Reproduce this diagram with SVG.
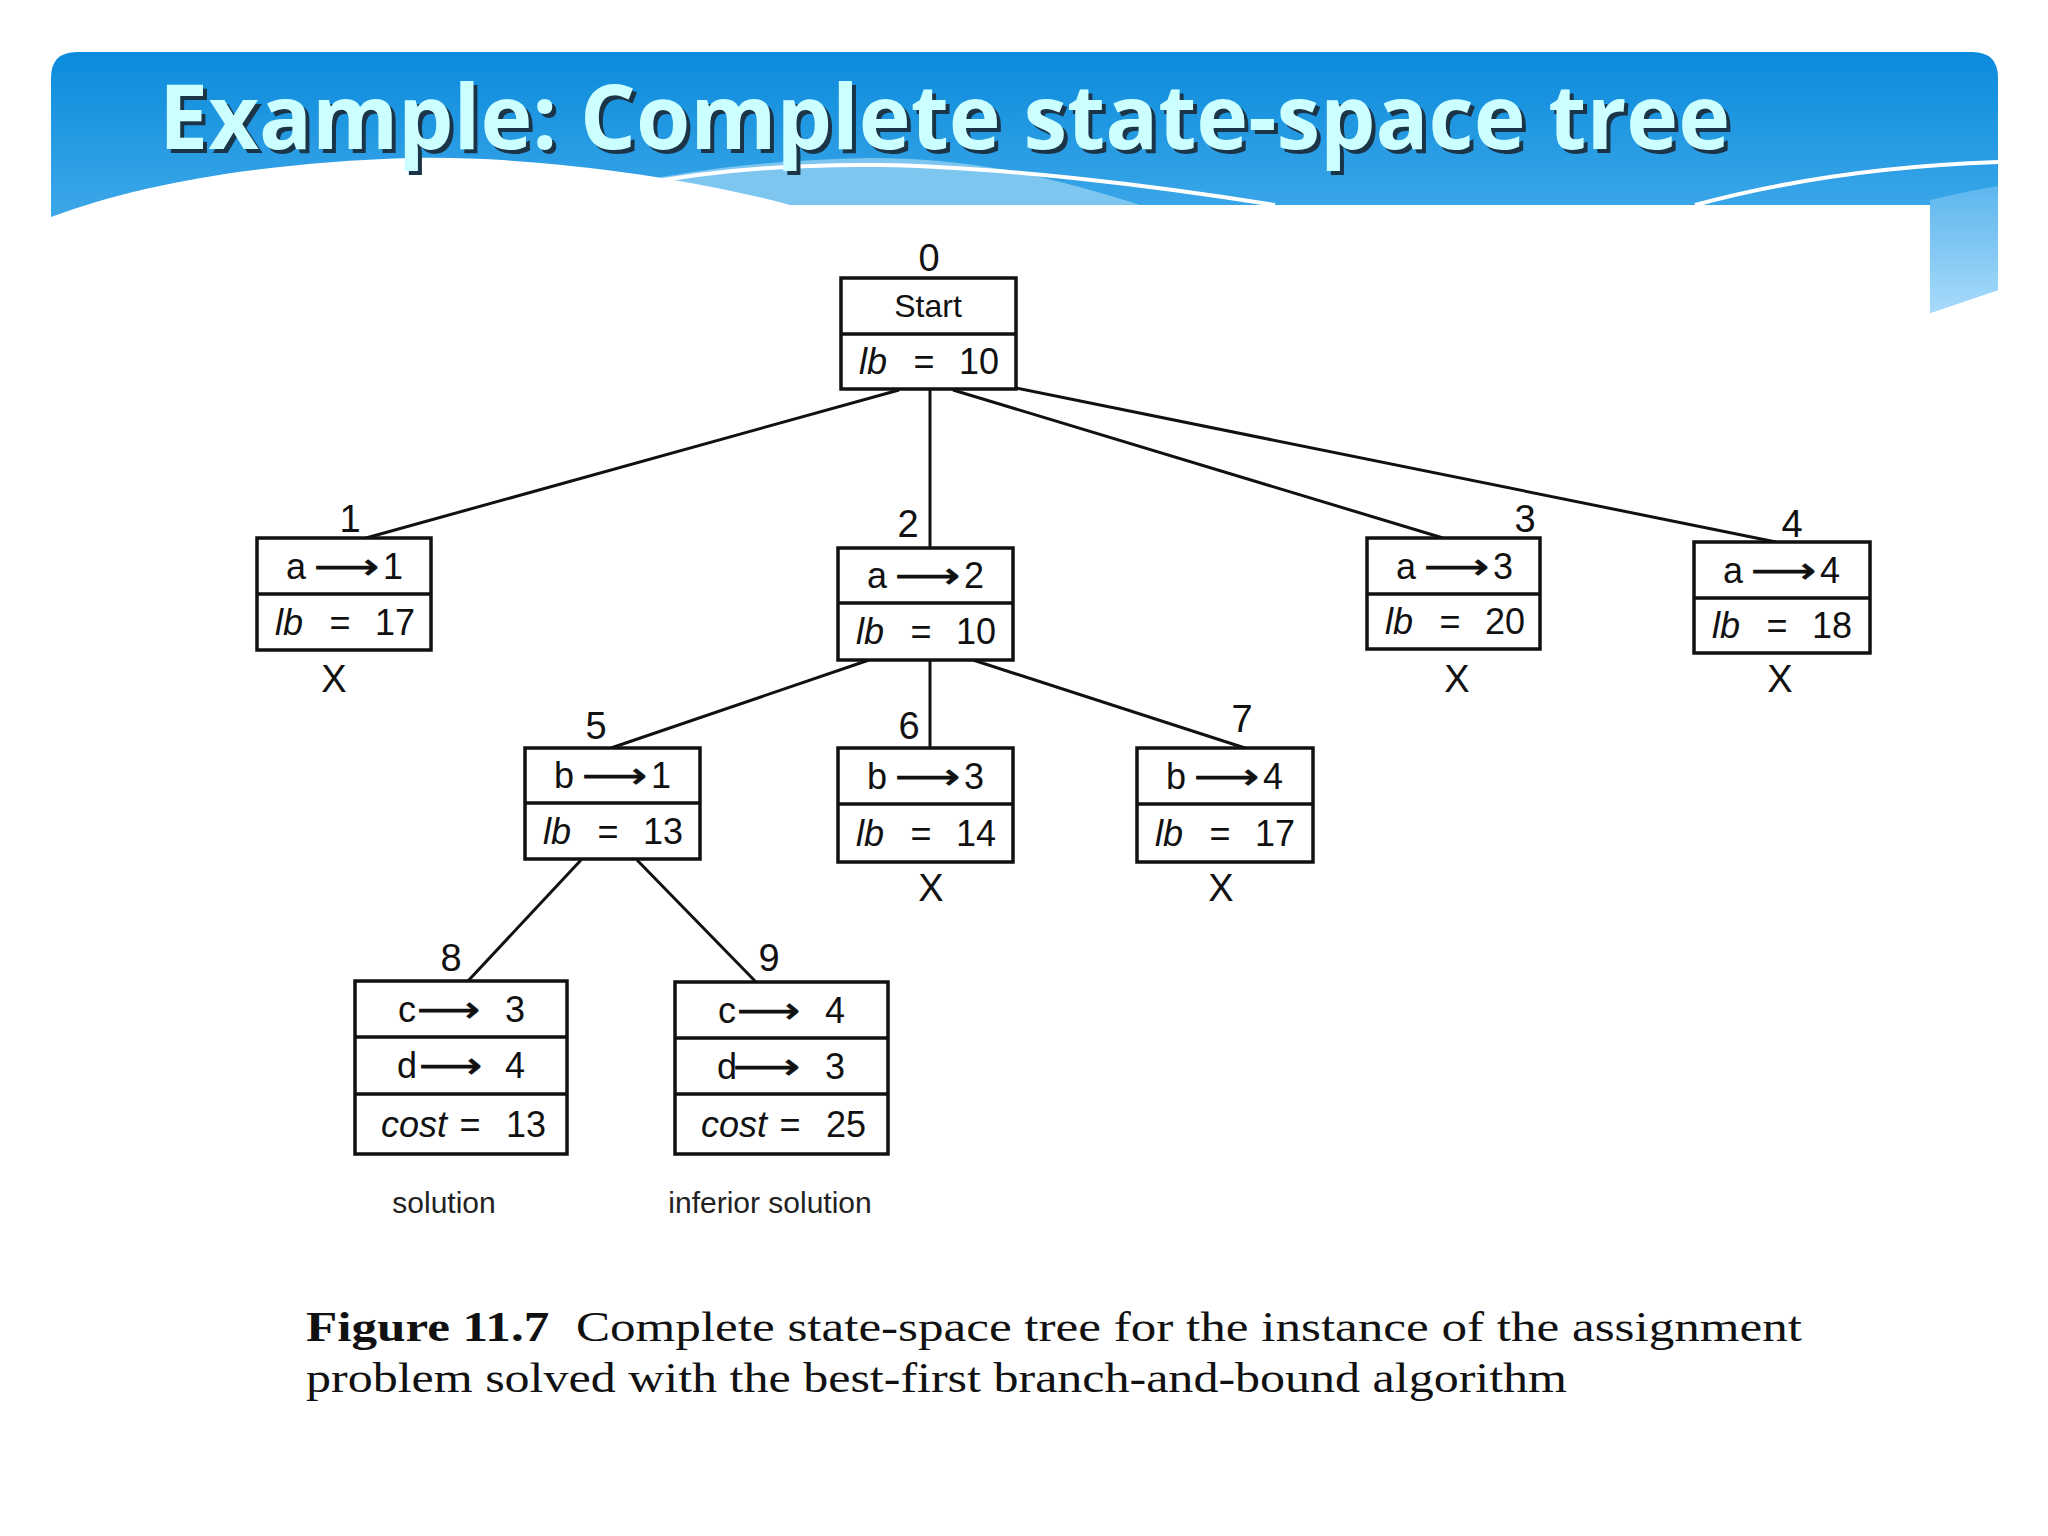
<svg xmlns="http://www.w3.org/2000/svg" width="2048" height="1536" viewBox="0 0 2048 1536">
<defs>
<linearGradient id="gBlue" x1="0" y1="0" x2="0" y2="1" gradientUnits="objectBoundingBox">
<stop offset="0" stop-color="#0b8bdc"/>
<stop offset="0.6" stop-color="#3aa6e8"/>
<stop offset="1" stop-color="#6cc0f2"/>
</linearGradient>
<linearGradient id="gStrip" x1="0" y1="0" x2="0" y2="1">
<stop offset="0" stop-color="#5db6ee"/>
<stop offset="1" stop-color="#a8dbfa"/>
</linearGradient>
<style>
.box{fill:#fff;stroke:#111;stroke-width:3.5}
.div{stroke:#111;stroke-width:3.5}
.edge{stroke:#111;stroke-width:3;fill:none}
.t{font-family:"Liberation Sans",Arial,sans-serif;font-size:36px;fill:#111;text-anchor:middle}
.it{font-style:italic}
.lbl{font-family:"Liberation Sans",Arial,sans-serif;font-size:38px;fill:#111;text-anchor:middle}
.arr{font-family:"DejaVu Sans",sans-serif;font-size:36px;fill:#111;stroke:#111;stroke-width:0.8}
.note{font-family:"Liberation Sans",Arial,sans-serif;font-size:30px;fill:#222;text-anchor:middle}
.cap{font-family:"Liberation Serif","Times New Roman",serif;font-size:42px;fill:#111}
.title{font-family:"Open Sans","Noto Sans",sans-serif;font-weight:bold;font-size:90px}
</style>
</defs>
<rect width="2048" height="1536" fill="#fff"/>
<!-- header -->
<g id="header">
<path d="M51,225 V78 Q51,52 77,52 H1972 Q1998,52 1998,78 V290 L1930,313 V205 H120 L51,225 Z" fill="url(#gBlue)"/>
<path d="M1930,200 C1950,195 1975,190 1998,186 V290 L1930,313 Z" fill="url(#gStrip)"/>
<path d="M560,205 C630,176 750,160 870,158 C980,158 1060,180 1140,205 Z" fill="#7cc6f0"/>
<path d="M630,186 C710,170 800,164 880,165 C1000,167 1150,185 1275,205" stroke="#fff" stroke-width="4" fill="none"/>
<path d="M1695,205 C1780,182 1880,166 1998,162" stroke="#fff" stroke-width="4" fill="none"/>
<path d="M51,217 C150,180 280,162 408,158 C520,155 680,175 790,205 L790,240 L51,240 Z" fill="#fff"/>
<rect x="780" y="205" width="1150" height="40" fill="#fff"/>
<text class="title" x="163" y="153" fill="#1b3447" textLength="1571" lengthAdjust="spacingAndGlyphs">Example: Complete state-space tree</text>
<text class="title" x="159" y="149" fill="#ccffff" textLength="1571" lengthAdjust="spacingAndGlyphs">Example: Complete state-space tree</text>
</g>
<!-- connectors -->
<g id="connectors">
<line class="edge" x1="899" y1="390" x2="366" y2="538"/>
<line class="edge" x1="930" y1="390" x2="930" y2="548"/>
<line class="edge" x1="953" y1="390" x2="1443" y2="538"/>
<line class="edge" x1="1016" y1="388" x2="1776" y2="542"/>
<line class="edge" x1="869" y1="660" x2="611" y2="748"/>
<line class="edge" x1="930" y1="660" x2="930" y2="748"/>
<line class="edge" x1="973" y1="660" x2="1245" y2="748"/>
<line class="edge" x1="581" y1="860" x2="468" y2="981"/>
<line class="edge" x1="637" y1="860" x2="755" y2="981"/>
</g>
<!-- node 0 -->
<g id="node0">
<rect class="box" x="841" y="278" width="175" height="111"/>
<line class="div" x1="841" y1="334" x2="1016" y2="334"/>
<text class="lbl" x="929" y="271">0</text>
<text class="t" x="928" y="317" style="font-size:32px">Start</text>
<text class="t it" x="873" y="374">lb</text>
<text class="t" x="924" y="374">=</text>
<text class="t" x="979" y="374">10</text>
</g>
<!-- node 1 -->
<g id="node1">
<rect class="box" x="257" y="538" width="174" height="112"/>
<line class="div" x1="257" y1="594" x2="431" y2="594"/>
<text class="lbl" x="350" y="532">1</text>
<text class="t" x="296" y="579">a</text>
<text class="arr" x="314" y="579" textLength="65" lengthAdjust="spacingAndGlyphs">⟶</text>
<text class="t" x="393" y="579">1</text>
<text class="t it" x="289" y="635">lb</text>
<text class="t" x="340" y="635">=</text>
<text class="t" x="395" y="635">17</text>
<text class="lbl" x="334" y="692">X</text>
</g>
<!-- node 2 -->
<g id="node2">
<rect class="box" x="838" y="548" width="175" height="112"/>
<line class="div" x1="838" y1="603" x2="1013" y2="603"/>
<text class="lbl" x="908" y="537">2</text>
<text class="t" x="877" y="588">a</text>
<text class="arr" x="895" y="588" textLength="65" lengthAdjust="spacingAndGlyphs">⟶</text>
<text class="t" x="974" y="588">2</text>
<text class="t it" x="870" y="644">lb</text>
<text class="t" x="921" y="644">=</text>
<text class="t" x="976" y="644">10</text>
</g>
<!-- node 3 -->
<g id="node3">
<rect class="box" x="1367" y="538" width="173" height="111"/>
<line class="div" x1="1367" y1="594" x2="1540" y2="594"/>
<text class="lbl" x="1525" y="532">3</text>
<text class="t" x="1406" y="579">a</text>
<text class="arr" x="1424" y="579" textLength="65" lengthAdjust="spacingAndGlyphs">⟶</text>
<text class="t" x="1503" y="579">3</text>
<text class="t it" x="1399" y="634">lb</text>
<text class="t" x="1450" y="634">=</text>
<text class="t" x="1505" y="634">20</text>
<text class="lbl" x="1457" y="692">X</text>
</g>
<!-- node 4 -->
<g id="node4">
<rect class="box" x="1694" y="542" width="176" height="111"/>
<line class="div" x1="1694" y1="598" x2="1870" y2="598"/>
<text class="lbl" x="1792" y="537">4</text>
<text class="t" x="1733" y="583">a</text>
<text class="arr" x="1751" y="583" textLength="65" lengthAdjust="spacingAndGlyphs">⟶</text>
<text class="t" x="1830" y="583">4</text>
<text class="t it" x="1726" y="638">lb</text>
<text class="t" x="1777" y="638">=</text>
<text class="t" x="1832" y="638">18</text>
<text class="lbl" x="1780" y="692">X</text>
</g>
<!-- node 5 -->
<g id="node5">
<rect class="box" x="525" y="748" width="175" height="111"/>
<line class="div" x1="525" y1="803" x2="700" y2="803"/>
<text class="lbl" x="596" y="739">5</text>
<text class="t" x="564" y="788">b</text>
<text class="arr" x="582" y="788" textLength="65" lengthAdjust="spacingAndGlyphs">⟶</text>
<text class="t" x="661" y="788">1</text>
<text class="t it" x="557" y="844">lb</text>
<text class="t" x="608" y="844">=</text>
<text class="t" x="663" y="844">13</text>
</g>
<!-- node 6 -->
<g id="node6">
<rect class="box" x="838" y="748" width="175" height="114"/>
<line class="div" x1="838" y1="804" x2="1013" y2="804"/>
<text class="lbl" x="909" y="739">6</text>
<text class="t" x="877" y="789">b</text>
<text class="arr" x="895" y="789" textLength="65" lengthAdjust="spacingAndGlyphs">⟶</text>
<text class="t" x="974" y="789">3</text>
<text class="t it" x="870" y="846">lb</text>
<text class="t" x="921" y="846">=</text>
<text class="t" x="976" y="846">14</text>
<text class="lbl" x="931" y="901">X</text>
</g>
<!-- node 7 -->
<g id="node7">
<rect class="box" x="1137" y="748" width="176" height="114"/>
<line class="div" x1="1137" y1="804" x2="1313" y2="804"/>
<text class="lbl" x="1242" y="732">7</text>
<text class="t" x="1176" y="789">b</text>
<text class="arr" x="1194" y="789" textLength="65" lengthAdjust="spacingAndGlyphs">⟶</text>
<text class="t" x="1273" y="789">4</text>
<text class="t it" x="1169" y="846">lb</text>
<text class="t" x="1220" y="846">=</text>
<text class="t" x="1275" y="846">17</text>
<text class="lbl" x="1221" y="901">X</text>
</g>
<!-- node 8 -->
<g id="node8">
<rect class="box" x="355" y="981" width="212" height="173"/>
<line class="div" x1="355" y1="1037" x2="567" y2="1037"/>
<line class="div" x1="355" y1="1094" x2="567" y2="1094"/>
<text class="lbl" x="451" y="971">8</text>
<text class="t" x="407" y="1022">c</text>
<text class="arr" x="417" y="1022" textLength="63" lengthAdjust="spacingAndGlyphs">⟶</text>
<text class="t" x="515" y="1022">3</text>
<text class="t" x="407" y="1078">d</text>
<text class="arr" x="419" y="1078" textLength="63" lengthAdjust="spacingAndGlyphs">⟶</text>
<text class="t" x="515" y="1078">4</text>
<text class="t it" x="414" y="1137">cost</text>
<text class="t" x="470" y="1137">=</text>
<text class="t" x="526" y="1137">13</text>
<text class="note" x="444" y="1213">solution</text>
</g>
<!-- node 9 -->
<g id="node9">
<rect class="box" x="675" y="982" width="213" height="172"/>
<line class="div" x1="675" y1="1038" x2="888" y2="1038"/>
<line class="div" x1="675" y1="1094" x2="888" y2="1094"/>
<text class="lbl" x="769" y="971">9</text>
<text class="t" x="727" y="1023">c</text>
<text class="arr" x="737" y="1023" textLength="63" lengthAdjust="spacingAndGlyphs">⟶</text>
<text class="t" x="835" y="1023">4</text>
<text class="t" x="727" y="1079">d</text>
<text class="arr" x="733" y="1079" textLength="67" lengthAdjust="spacingAndGlyphs">⟶</text>
<text class="t" x="835" y="1079">3</text>
<text class="t it" x="734" y="1137">cost</text>
<text class="t" x="790" y="1137">=</text>
<text class="t" x="846" y="1137">25</text>
<text class="note" x="770" y="1213">inferior solution</text>
</g>
<!-- caption -->
<g id="caption">
<text class="cap" x="306" y="1341" textLength="1496" lengthAdjust="spacingAndGlyphs"><tspan font-weight="bold">Figure 11.7</tspan><tspan dx="22">Complete state-space tree for the instance of the assignment</tspan></text>
<text class="cap" x="306" y="1392" textLength="1261" lengthAdjust="spacingAndGlyphs">problem solved with the best-first branch-and-bound algorithm</text>
</g>
</svg>
